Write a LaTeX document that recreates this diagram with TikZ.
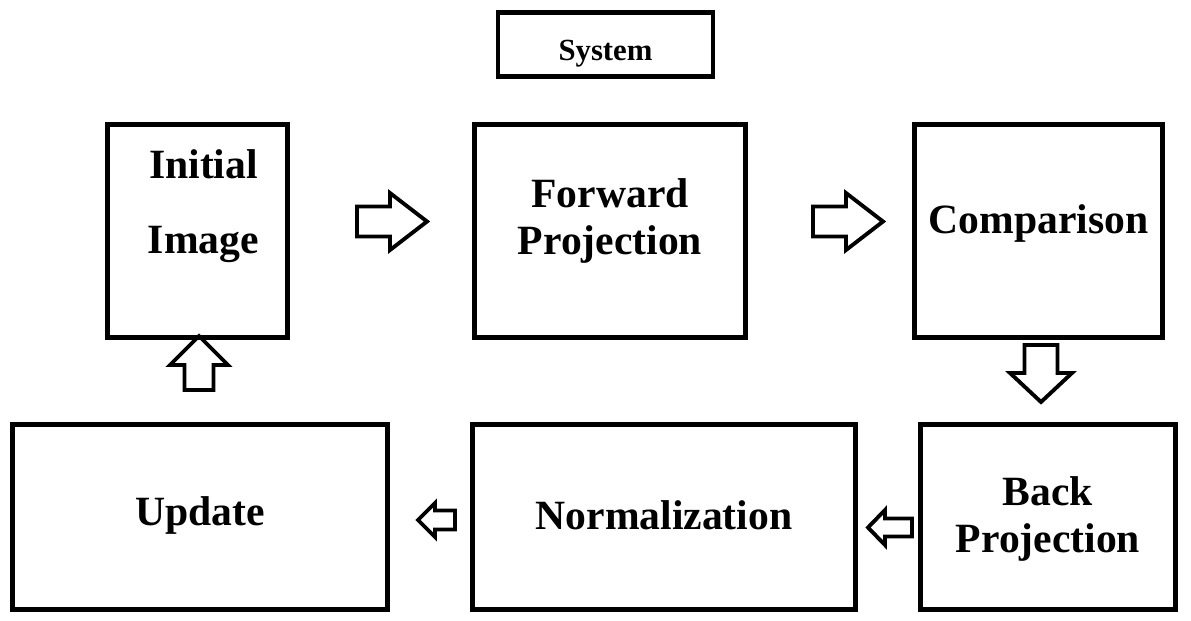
\documentclass[tikz,border=0pt]{standalone}
\usepackage{fontspec}
\setmainfont{Liberation Serif}
\usetikzlibrary{calc}
\tikzset{
	box/.style={draw,line width=2.8pt,inner sep=0pt},
	lbl/.style={align=center,font=\bfseries\fontsize{23.7}{27}\selectfont},
	arrowline/.style={line width=2.2pt,line join=miter},
	pics/blockarrow/.style n args={4}{code={
		\draw[arrowline] (-#1/2,-#3/2) -- (#1/2-#4,-#3/2) -- (#1/2-#4,-#2/2) -- (#1/2,0)
			-- (#1/2-#4,#2/2) -- (#1/2-#4,#3/2) -- (-#1/2,#3/2) -- cycle;
	}}
}
\begin{document}
\begin{tikzpicture}[x=0.02cm,y=-0.02cm]
			\useasboundingbox (0,0) rectangle (1191,620);
			% boxes
			\node[box,minimum width=4.3cm,minimum height=1.28cm] (sys) at (605.5,44.5) {};
			\node[box,minimum width=3.6cm,minimum height=4.26cm] (init) at (197.5,231) {};
			\node[box,minimum width=5.42cm,minimum height=4.26cm] (fwd) at (610,231) {};
			\node[box,minimum width=4.96cm,minimum height=4.26cm] (comp) at (1038.5,231) {};
			\node[box,minimum width=7.5cm,minimum height=3.7cm] (upd) at (200,517) {};
			\node[box,minimum width=7.66cm,minimum height=3.7cm] (norm) at (664,517) {};
			\node[box,minimum width=5.1cm,minimum height=3.7cm] (back) at (1048,517) {};
			% texts
			\node[font=\bfseries\fontsize{17.5}{20}\selectfont] (systxt) at ($(sys)+(0,9)$) {System};
			\node[lbl] (inittxt) at ($(init)+(6,-25)$) {Initial\\[0.54cm]Image};
			\node[lbl] (fwdtxt) at ($(fwd)+(0,-10)$) {Forward\\Projection};
			\node[lbl] (comptxt) at ($(comp)+(0,-8)$) {Comparison};
			\node[lbl] (updtxt) at ($(upd)+(0,-2)$) {Update};
			\node[lbl] (normtxt) at ($(norm)+(0,-2)$) {Normalization};
			\node[lbl] (backtxt) at ($(back)+(0,2)$) {Back\\Projection};
			% block arrows
			\pic at (392,221.5) {blockarrow={70}{57}{30}{37}};
			\pic at (848,221.5) {blockarrow={70}{57}{30}{37}};
			\pic[rotate=90] at (199,363) {blockarrow={54}{58}{29}{29}};
			\pic[rotate=-90] at (1041,373.5) {blockarrow={57}{62}{33}{29}};
			\pic[rotate=180] at (436.5,520) {blockarrow={37}{34}{19}{17}};
			\pic[rotate=180] at (890,527.5) {blockarrow={44}{35}{18}{17}};
		\end{tikzpicture}
\end{document}
